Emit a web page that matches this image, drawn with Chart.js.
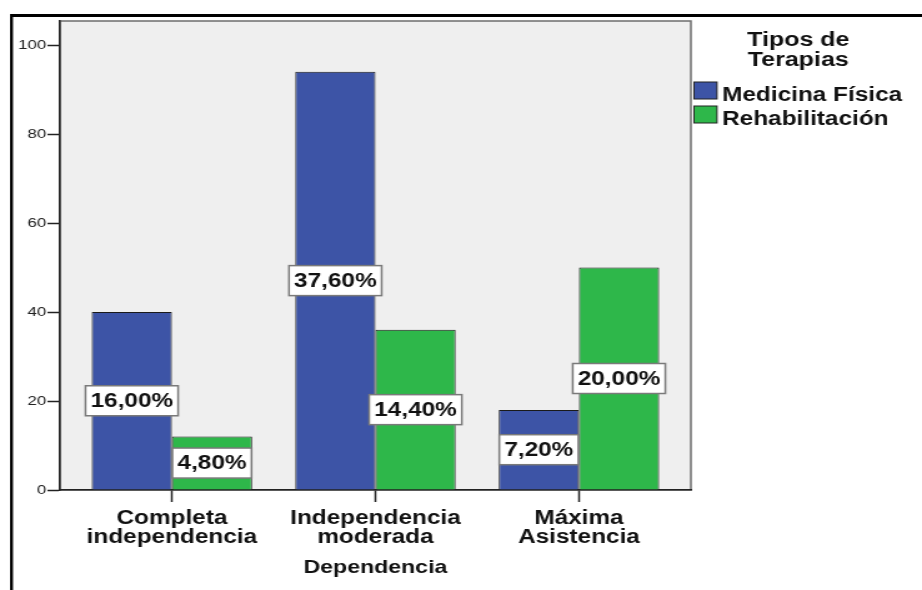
<!DOCTYPE html>
<html>
<head>
<meta charset="utf-8">
<script src="https://cdn.jsdelivr.net/npm/chart.js@4.4.1/dist/chart.umd.min.js"></script>
<style>
  html, body { margin: 0; padding: 0; background: #fff; overflow: hidden; }
  /* SPSS output is wide-set: draw at 738px and stretch to 922px */
  #wrap { width: 738px; height: 590px; transform: scaleX(1.2493); transform-origin: 0 0; }
</style>
</head>
<body>
<div id="wrap"><canvas id="my_chart" width="738" height="590"></canvas></div>
<script>
// Dependencia categories, one array per two-line label
var categories = [['Completa', 'independencia'], ['Independencia', 'moderada'], ['Máxima', 'Asistencia']]
var series_names = ['Medicina Física', 'Rehabilitación']
var medicina_fisica = [40, 94, 18]
var rehabilitacion = [12, 36, 50]
var y_ticks = [0, 20, 40, 60, 80, 100]
var legend_title = ['Tipos de', 'Terapias']

var colors = ['#3d54a6', '#2eb74a']
var FONT = '"Liberation Sans", Arial, sans-serif'

var total = medicina_fisica.concat(rehabilitacion).reduce(function (a, b) { return a + b }, 0)

function to_points(values) {
    return values.map(function (v, i) { return {x: i, y: v} })
}

// grey plot background and its thin frame
var plot_frame = {
    id: 'plot_frame',
    beforeDraw: function (chart) {
        var a = chart.chartArea, ctx = chart.ctx
        ctx.save()
        ctx.fillStyle = '#efefef'
        ctx.fillRect(a.left, a.top, a.right - a.left, a.bottom - a.top)
        ctx.strokeStyle = '#6e6e6e'
        ctx.lineWidth = 1.5
        ctx.strokeRect(a.left, a.top, a.right - a.left, a.bottom - a.top)
        ctx.restore()
    }
}

// percentage of the grand total in a white box at the middle of each bar
var bar_labels = {
    id: 'bar_labels',
    afterDatasetsDraw: function (chart) {
        var ctx = chart.ctx
        ctx.save()
        ctx.font = 'bold 19.5px ' + FONT
        ctx.textAlign = 'center'
        ctx.textBaseline = 'middle'
        chart.data.datasets.forEach(function (ds, di) {
            chart.getDatasetMeta(di).data.forEach(function (bar, i) {
                var value = ds.data[i].y
                var txt = (value / total * 100).toFixed(2).replace('.', ',') + '%'
                var w = ctx.measureText(txt).width + 8
                var h = 30
                var cx = bar.x, cy = (bar.y + bar.base) / 2
                ctx.fillStyle = '#fff'
                ctx.fillRect(cx - w / 2, cy - h / 2, w, h)
                ctx.strokeStyle = '#7a7a7a'
                ctx.lineWidth = 1.5
                ctx.strokeRect(cx - w / 2, cy - h / 2, w, h)
                ctx.fillStyle = '#111'
                ctx.fillText(txt, cx, cy + 1)
            })
        })
        ctx.restore()
    }
}

// legend on the right and the outer frame lines
var side_legend = {
    id: 'side_legend',
    afterDraw: function (chart) {
        var ctx = chart.ctx, a = chart.chartArea
        ctx.save()
        ctx.fillStyle = '#000'
        ctx.fillRect(8, 14, 738, 3)
        ctx.fillRect(8, 14, 2.4, 576)

        ctx.fillStyle = '#111'
        ctx.font = 'bold 20px ' + FONT
        ctx.textAlign = 'center'
        ctx.textBaseline = 'alphabetic'
        legend_title.forEach(function (t, i) {
            ctx.fillText(t, a.right + 86, 46 + i * 19.5)
        })

        ctx.textAlign = 'left'
        ctx.font = 'bold 19.5px ' + FONT
        chart.data.datasets.forEach(function (ds, i) {
            var y = 82 + i * 24
            ctx.fillStyle = ds.backgroundColor
            ctx.fillRect(a.right + 2.5, y, 18.4, 17)
            ctx.strokeStyle = '#222'
            ctx.lineWidth = 1
            ctx.strokeRect(a.right + 2.5, y, 18.4, 17)
            ctx.fillStyle = '#111'
            ctx.fillText(ds.label, a.right + 25, y + 18.5)
        })
        ctx.restore()
    }
}

window.addEventListener('DOMContentLoaded', function () {
    var ctx = document.getElementById('my_chart')
    var my_chart = new Chart(ctx, {
        type: 'bar',
        data: {
            datasets: [
                {
                    label: series_names[0],
                    data: to_points(medicina_fisica),
                    backgroundColor: colors[0]
                },
                {
                    label: series_names[1],
                    data: to_points(rehabilitacion),
                    backgroundColor: colors[1]
                }
            ]
        },
        options: {
            responsive: false,
            animation: false,
            devicePixelRatio: 1,
            layout: {padding: {left: 0, top: 21, right: 185, bottom: 0}},
            datasets: {
                bar: {
                    categoryPercentage: 0.788,
                    barPercentage: 1,
                    borderColor: '#1a1a1a',
                    borderWidth: 1
                }
            },
            plugins: {
                legend: {display: false},
                tooltip: {enabled: false}
            },
            scales: {
                x: {
                    type: 'linear',
                    min: -0.55,
                    max: 2.55,
                    offset: false,
                    afterBuildTicks: function (scale) {
                        scale.ticks = categories.map(function (c, i) { return {value: i} })
                    },
                    afterFit: function (scale) { scale.height = 100 },
                    grid: {
                        offset: false,
                        drawOnChartArea: false,
                        drawTicks: true,
                        tickLength: 12,
                        tickColor: '#222',
                        tickWidth: 1.5
                    },
                    border: {display: true, color: '#222', width: 1.5},
                    ticks: {
                        autoSkip: false,
                        maxRotation: 0,
                        padding: 7,
                        color: '#111',
                        font: {family: FONT, size: 19.5, weight: 'bold', lineHeight: 0.98},
                        callback: function (v) { return categories[v] }
                    },
                    title: {
                        display: true,
                        text: 'Dependencia',
                        color: '#111',
                        font: {family: FONT, size: 18.5, weight: 'bold'},
                        padding: {top: 0, bottom: 11}
                    }
                },
                y: {
                    min: 0,
                    max: 105.4,
                    afterBuildTicks: function (scale) {
                        scale.ticks = y_ticks.map(function (v) { return {value: v} })
                    },
                    afterFit: function (scale) { scale.width = 48 },
                    grid: {
                        drawOnChartArea: false,
                        tickLength: 10,
                        tickColor: '#222',
                        tickWidth: 1.5
                    },
                    border: {display: true, color: '#222', width: 1.5},
                    ticks: {
                        padding: 1,
                        color: '#222',
                        font: {family: FONT, size: 13.5}
                    }
                }
            }
        },
        plugins: [plot_frame, bar_labels, side_legend]
    })
})
</script>
</body>
</html>
